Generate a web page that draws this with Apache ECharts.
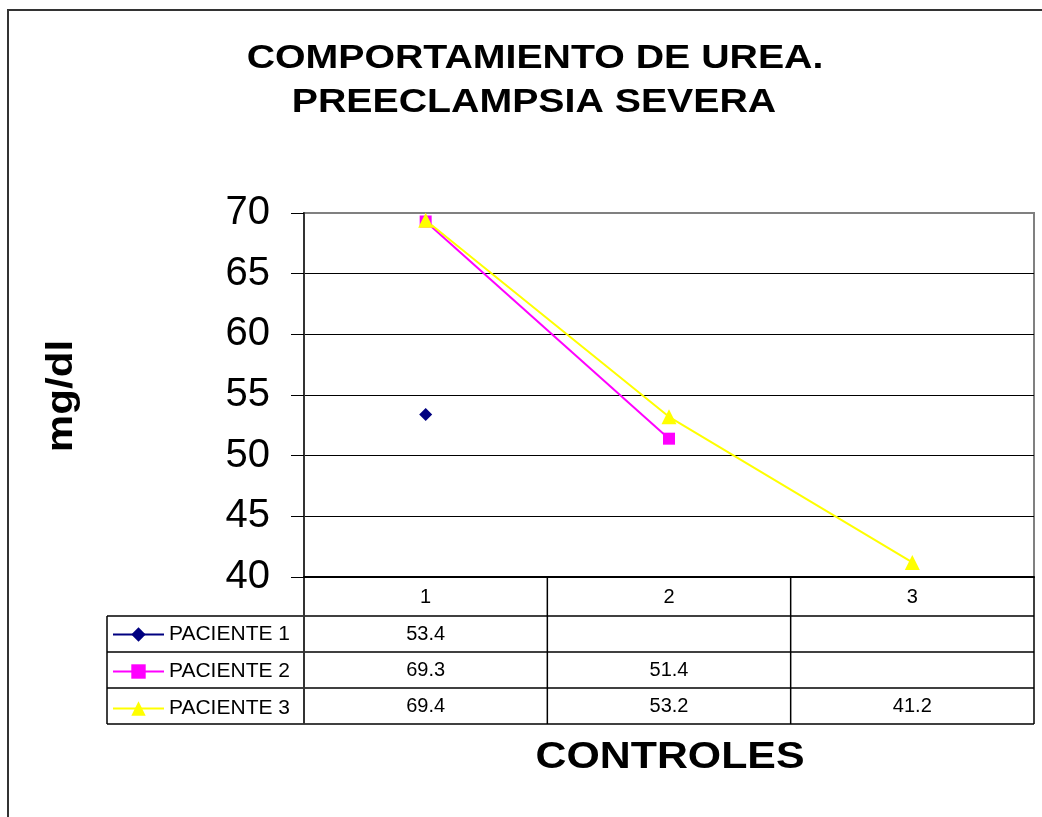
<!DOCTYPE html>
<html>
<head>
<meta charset="utf-8">
<title>Comportamiento de urea</title>
<script src="https://cdn.jsdelivr.net/npm/echarts@6/dist/echarts.min.js"></script>
<style>
  body { margin: 0; background: #fff; }
  #myEcharts { width: 1042px; height: 817px; }
</style>
</head>
<body>
<div id="myEcharts"></div>
<script>
// datos
const categories = ['1', '2', '3']
const seriesNames = ['PACIENTE 1', 'PACIENTE 2', 'PACIENTE 3']
const paciente1 = [53.4, null, null]
const paciente2 = [69.3, 51.4, null]
const paciente3 = [69.4, 53.2, 41.2]
const yMin = 40
const yMax = 70
const yStep = 5

const font = 'Liberation Sans, Arial, sans-serif'
const gridBox = { left: 304, top: 213, width: 730, height: 364 }
const tableLeft = 107
const headerBottom = 616
const rowH = 36

const myChart = echarts.init(document.getElementById('myEcharts'))

const allSeries = [
  { name: seriesNames[0], data: paciente1, symbol: 'diamond', symbolSize: 13, color: '#000080' },
  { name: seriesNames[1], data: paciente2, symbol: 'rect', symbolSize: 12, color: '#ff00ff' },
  { name: seriesNames[2], data: paciente3, symbol: 'triangle', symbolSize: 15, color: '#ffff00' }
]

myChart.setOption({
  animation: false,
  textStyle: { fontFamily: font },
  grid: {
    left: gridBox.left,
    top: gridBox.top,
    width: gridBox.width,
    height: gridBox.height,
    show: true,
    borderColor: '#808080',
    borderWidth: 2
  },
  legend: {
    orient: 'vertical',
    left: 112,
    top: headerBottom + 8,
    padding: 0,
    itemGap: 16,
    itemWidth: 51,
    itemHeight: 18,
    selectedMode: false,
    data: seriesNames,
    lineStyle: { width: 2 },
    textStyle: { fontSize: 21, color: '#000', fontFamily: font }
  },
  xAxis: {
    type: 'category',
    data: categories,
    boundaryGap: true,
    axisLine: { lineStyle: { color: '#000', width: 2 } },
    axisTick: { show: false },
    axisLabel: { fontSize: 20, color: '#000', margin: 10 }
  },
  yAxis: {
    type: 'value',
    min: yMin,
    max: yMax,
    interval: yStep,
    axisLine: { show: true, lineStyle: { color: '#333', width: 2 } },
    axisTick: { show: true, length: 13, lineStyle: { color: '#000' } },
    axisLabel: { fontSize: 40, color: '#000', margin: 34 },
    splitLine: { show: true, showMaxLine: false, lineStyle: { color: '#000', width: 1 } }
  },
  series: allSeries.map(s => ({
    name: s.name,
    type: 'line',
    data: s.data,
    symbol: s.symbol,
    symbolSize: s.symbolSize,
    showSymbol: true,
    connectNulls: false,
    itemStyle: { color: s.color },
    lineStyle: { color: s.color, width: 2 }
  }))
})

// tabla de datos y textos
const graphics = []
graphics.push({
  type: 'rect',
  shape: { x: 8, y: 10, width: 1200, height: 1000 },
  style: { fill: 'none', stroke: '#333', lineWidth: 2 },
  silent: true
})
const right = gridBox.left + gridBox.width
const bottom = gridBox.top + gridBox.height
const tableBottom = headerBottom + allSeries.length * rowH
for (let r = 0; r <= allSeries.length; r++) {
  const y = headerBottom + r * rowH
  graphics.push({
    type: 'line',
    shape: { x1: tableLeft, y1: y, x2: right, y2: y },
    style: { stroke: '#000', lineWidth: 1.5 }
  })
}
graphics.push({
  type: 'line',
  shape: { x1: tableLeft, y1: headerBottom, x2: tableLeft, y2: tableBottom },
  style: { stroke: '#000', lineWidth: 1.5 }
})
// separadores de columnas entre categorias
const cellW = gridBox.width / categories.length
for (let i = 0; i <= categories.length; i++) {
  const x = gridBox.left + i * cellW
  graphics.push({
    type: 'line',
    shape: { x1: x, y1: bottom, x2: x, y2: tableBottom },
    style: { stroke: i === 0 ? '#333' : '#000', lineWidth: i === 0 ? 2 : 1.5 }
  })
}
allSeries.forEach((s, r) => {
  s.data.forEach((v, i) => {
    if (v === null) return
    const px = myChart.convertToPixel({ xAxisIndex: 0 }, categories[i])
    graphics.push({
      type: 'text',
      x: px,
      y: headerBottom + r * rowH + rowH / 2,
      style: { text: String(v), align: 'center', verticalAlign: 'middle', font: '20px ' + font, fill: '#000' }
    })
  })
})
// titulos
graphics.push({
  type: 'text', x: 535, y: 59, scaleX: 1.19,
  style: { text: 'COMPORTAMIENTO DE UREA.', align: 'center', verticalAlign: 'middle', font: 'bold 33px ' + font, fill: '#000' }
})
graphics.push({
  type: 'text', x: 534, y: 103, scaleX: 1.19,
  style: { text: 'PREECLAMPSIA SEVERA', align: 'center', verticalAlign: 'middle', font: 'bold 33px ' + font, fill: '#000' }
})
graphics.push({
  type: 'text', x: 670, y: 758, scaleX: 1.19,
  style: { text: 'CONTROLES', align: 'center', verticalAlign: 'middle', font: 'bold 36px ' + font, fill: '#000' }
})
graphics.push({
  type: 'text', x: 62, y: 396, rotation: Math.PI / 2, scaleX: 1.17,
  style: { text: 'mg/dl', align: 'center', verticalAlign: 'middle', font: 'bold 36px ' + font, fill: '#000' }
})
myChart.setOption({ graphic: graphics })

window.addEventListener('resize', () => {
  myChart.resize()
})
</script>
</body>
</html>
